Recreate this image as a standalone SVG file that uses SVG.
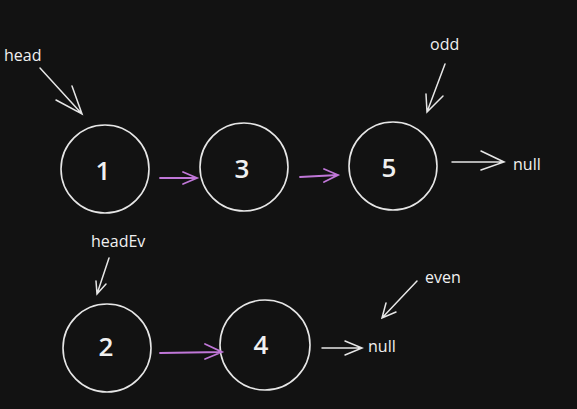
<svg xmlns="http://www.w3.org/2000/svg" width="577" height="409" viewBox="0 0 577 409">
<style>
.bg{fill:#121212}
.node circle{fill:none;stroke:#e6e6e6;stroke-width:1.6}
.num{fill:#f0f0f0;font-family:"Open Sans","DejaVu Sans",sans-serif;font-size:26px;font-weight:600;text-anchor:middle;dominant-baseline:central}
.lbl{fill:#f0f0f0;font-family:"Open Sans","DejaVu Sans",sans-serif;font-size:16px;font-weight:500}
.w{stroke:#e6e6e6;stroke-width:1.5;fill:none;stroke-linecap:round}
.p{stroke:#c077d8;stroke-width:1.8;fill:none;stroke-linecap:round}
</style>
<rect class="bg" width="577" height="409"/>
<g id="n1" class="node"><circle cx="105" cy="169" r="44"/><text class="num" x="103" y="170">1</text></g>
<g id="n3" class="node"><circle cx="244" cy="167" r="44"/><text class="num" x="242" y="168">3</text></g>
<g id="n5" class="node"><circle cx="393" cy="166" r="44"/><text class="num" x="389" y="167">5</text></g>
<g id="n2" class="node"><circle cx="107" cy="348" r="44"/><text class="num" x="106" y="346">2</text></g>
<g id="n4" class="node"><circle cx="265" cy="345" r="45"/><text class="num" x="261" y="344">4</text></g>
<g id="labels">
<text class="lbl" x="4" y="61">head</text>
<text class="lbl" x="430" y="50">odd</text>
<text class="lbl" x="513" y="170">null</text>
<text class="lbl" x="91" y="247">headEv</text>
<text class="lbl" x="425" y="283">even</text>
<text class="lbl" x="368" y="352">null</text>
</g>
<g id="connectors">
<path class="w" d="M40 68 L82 114 M56 100 L82 114 L72 86"/>
<path class="w" d="M445 64 L427 112 M426 94 L427 112 L443 96"/>
<path class="w" d="M452 162 L504 162 M481 151 L504 162 L481 170"/>
<path class="w" d="M109 258 L97 294 M96 281 L97 294 L106 284"/>
<path class="w" d="M417 281 L382 318 M386 303 L382 318 L396 312"/>
<path class="w" d="M322 348 L362 348 M345 341 L362 348 L345 355"/>
<path class="p" d="M160 178 L197 178 M183 172 L197 178 L183 184"/>
<path class="p" d="M300 177 L338 175 M324 169 L338 175 L324 182"/>
<path class="p" d="M160 353 L222 352 M205 344 L222 352 L205 359"/>
</g>
</svg>
